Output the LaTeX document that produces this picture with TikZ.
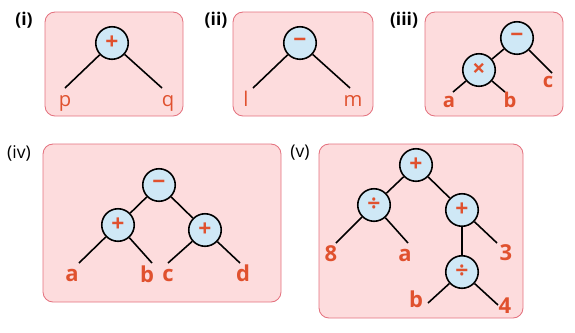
\documentclass[tikz,border=0pt]{standalone}
\usepackage{fontspec}
\setmainfont{Open Sans}
\usepackage{tikz}
\usetikzlibrary{positioning}
\definecolor{panelfill}{HTML}{FDDCDD}
\definecolor{paneldraw}{HTML}{E4727F}
\definecolor{opfill}{HTML}{CFE8F6}
\definecolor{leafred}{HTML}{E0512E}

\begin{document}
\begin{tikzpicture}[
  x=0.2mm,
  y=-0.2mm,
  panel/.style={draw=paneldraw,fill=panelfill,line width=0.5pt,rounded corners=2mm},
  op/.style={circle,draw=black,fill=opfill,line width=0.9pt,minimum size=6.5mm,inner sep=0pt,
    text=leafred,font=\bfseries\fontsize{13}{13}\selectfont},
  branch/.style={line width=0.9pt},
  leaf/.style={anchor=base,text=leafred,inner sep=0pt,font=\fontsize{11.5}{11.5}\selectfont},
  mleaf/.style={leaf,font=\bfseries\fontsize{11.5}{11.5}\selectfont},
  bleaf/.style={leaf,font=\bfseries\fontsize{12.5}{12.5}\selectfont},
  tag/.style={inner sep=0pt,font=\fontsize{10}{10}\selectfont},
  btag/.style={tag,font=\bfseries\fontsize{10}{10}\selectfont}
]
  \useasboundingbox (0,0) rectangle (575,332);

  \node[btag] (tagi) at (24,20) {(i)};
  \draw[panel] (45,12) rectangle (183,116);
  \node[op] (plusi) at (112,43) {+};
  \coordinate (ip) at (65,88);
  \coordinate (iq) at (162,88);
  \draw[branch] (plusi) -- (ip);
  \draw[branch] (plusi) -- (iq);
  \node[leaf] (p) at (65,106) {p};
  \node[leaf] (q) at (168,106) {q};

  \node[btag] (tagii) at (216,20) {(ii)};
  \draw[panel] (233,12) rectangle (373,116);
  \node[op] (minusii) at (300,43) {−};
  \coordinate (iil) at (253,88);
  \coordinate (iim) at (350,88);
  \draw[branch] (minusii) -- (iil);
  \draw[branch] (minusii) -- (iim);
  \node[leaf] (l) at (246,106) {l};
  \node[leaf] (m) at (353,106) {m};

  \node[btag] (tagiii) at (404,20) {(iii)};
  \draw[panel] (425,12) rectangle (563,116);
  \node[op] (minusiii) at (517,38) {−};
  \node[op] (timesiii) at (479,70) {×};
  \coordinate (iiia) at (453,92);
  \coordinate (iiib) at (505,92);
  \coordinate (iiic) at (552,73);
  \draw[branch] (minusiii) -- (timesiii);
  \draw[branch] (minusiii) -- (iiic);
  \draw[branch] (timesiii) -- (iiia);
  \draw[branch] (timesiii) -- (iiib);
  \node[mleaf] (aiii) at (449,107) {a};
  \node[mleaf] (biii) at (510,107) {b};
  \node[mleaf] (ciii) at (548,87) {c};

  \node[tag] (tagiv) at (19,153) {(iv)};
  \draw[panel] (43,144) rectangle (281,302);
  \node[op] (minusiv) at (159,185) {−};
  \node[op] (plusivl) at (118,225) {+};
  \node[op] (plusivr) at (205,230) {+};
  \coordinate (iva) at (79,263);
  \coordinate (ivb) at (152,263);
  \coordinate (ivc) at (168,263);
  \coordinate (ivd) at (240,263);
  \draw[branch] (minusiv) -- (plusivl);
  \draw[branch] (minusiv) -- (plusivr);
  \draw[branch] (plusivl) -- (iva);
  \draw[branch] (plusivl) -- (ivb);
  \draw[branch] (plusivr) -- (ivc);
  \draw[branch] (plusivr) -- (ivd);
  \node[bleaf] (aiv) at (72,281) {a};
  \node[bleaf] (biv) at (147,282) {b};
  \node[bleaf] (civ) at (168,281) {c};
  \node[bleaf] (div) at (243,281) {d};

  \node[tag] (tagv) at (300,153) {(v)};
  \draw[panel] (319,144) rectangle (523,318);
  \node[op] (plusvt) at (416,165) {+};
  \node[op] (divvl) at (374,205) {÷};
  \node[op] (plusvr) at (462,210) {+};
  \node[op] (divvb) at (462,272) {÷};
  \coordinate (v8) at (336,243);
  \coordinate (va) at (408,243);
  \coordinate (v3) at (497,243);
  \coordinate (vb) at (428,303);
  \coordinate (v4) at (498,305);
  \draw[branch] (plusvt) -- (divvl);
  \draw[branch] (plusvt) -- (plusvr);
  \draw[branch] (divvl) -- (v8);
  \draw[branch] (divvl) -- (va);
  \draw[branch] (plusvr) -- (divvb);
  \draw[branch] (plusvr) -- (v3);
  \draw[branch] (divvb) -- (vb);
  \draw[branch] (divvb) -- (v4);
  \node[bleaf] (eight) at (331,261) {8};
  \node[bleaf] (av) at (405,261) {a};
  \node[bleaf] (three) at (506,260) {3};
  \node[bleaf] (bv) at (416,307) {b};
  \node[bleaf] (four) at (505,313) {4};
\end{tikzpicture}
\end{document}
